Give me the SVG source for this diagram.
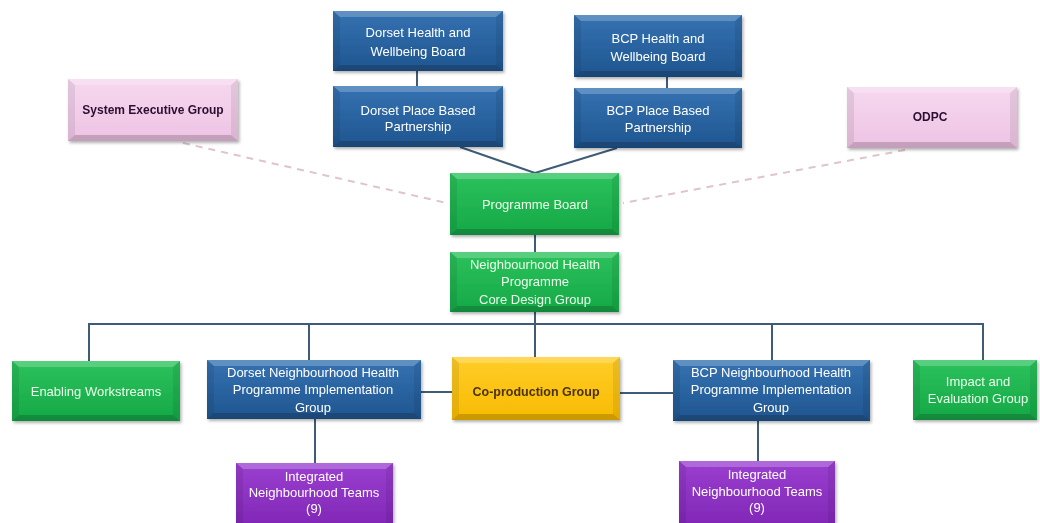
<svg xmlns="http://www.w3.org/2000/svg" width="1040" height="523" viewBox="0 0 1040 523">
<style>
.t{font-family:"Liberation Sans",Arial,sans-serif;font-size:13px;text-anchor:middle;fill:#ffffff}
.tg{fill:#eaffea}
.tp{fill:#2b1030;font-weight:bold;font-size:12px}
.ty{fill:#4a3300;font-weight:bold;font-size:12.5px}
.blue{fill:url(#gBlue)}
.green{fill:url(#gGreen)}
.yellow{fill:url(#gYellow)}
.purple{fill:url(#gPurple)}
.pink{fill:url(#gPink)}
.bt{fill:#ffffff;opacity:0.22}
.bb{fill:#000000;opacity:0.18}
.bs{fill:#000000;opacity:0.08}
.ln{stroke:#3e5c78;stroke-width:2;fill:none}
.dash{stroke:#dfc4ca;stroke-width:2;stroke-dasharray:7 6;fill:none}
.box{filter:url(#sh)}
</style>
<defs>
<filter id="sh" x="-10%" y="-10%" width="125%" height="130%">
<feDropShadow dx="1.5" dy="2" stdDeviation="1.5" flood-color="#000" flood-opacity="0.3"/>
</filter>
<linearGradient id="gBlue" x1="0" y1="0" x2="0" y2="1"><stop offset="0" stop-color="#3572b2"/><stop offset="1" stop-color="#1f558f"/></linearGradient>
<linearGradient id="gGreen" x1="0" y1="0" x2="0" y2="1"><stop offset="0" stop-color="#2cc25c"/><stop offset="1" stop-color="#15a847"/></linearGradient>
<linearGradient id="gYellow" x1="0" y1="0" x2="0" y2="1"><stop offset="0" stop-color="#ffcd2a"/><stop offset="1" stop-color="#f8bb00"/></linearGradient>
<linearGradient id="gPurple" x1="0" y1="0" x2="0" y2="1"><stop offset="0" stop-color="#9a3fd0"/><stop offset="1" stop-color="#8228b8"/></linearGradient>
<linearGradient id="gPink" x1="0" y1="0" x2="0" y2="1"><stop offset="0" stop-color="#f6d8ef"/><stop offset="1" stop-color="#eec3e4"/></linearGradient>
</defs>
<rect width="1040" height="523" fill="#ffffff"/>

<g id="connectors">
<line class="dash" x1="183" y1="143" x2="447" y2="203"/>
<line class="dash" x1="905" y1="150" x2="623" y2="203"/>
<line class="ln" x1="417" y1="71" x2="417" y2="86"/>
<line class="ln" x1="667" y1="77" x2="667" y2="88"/>
<line class="ln" x1="460" y1="147" x2="535" y2="173"/>
<line class="ln" x1="617" y1="148" x2="535" y2="173"/>
<line class="ln" x1="535" y1="235" x2="535" y2="252"/>
<line class="ln" x1="535" y1="312" x2="535" y2="357"/>
<polyline class="ln" points="89,361 89,324 983,324 983,360"/>
<line class="ln" x1="309" y1="324" x2="309" y2="360"/>
<line class="ln" x1="772" y1="324" x2="772" y2="360"/>
<line class="ln" x1="421" y1="392" x2="452" y2="392"/>
<line class="ln" x1="620" y1="393" x2="673" y2="393"/>
<line class="ln" x1="315" y1="419" x2="315" y2="463"/>
<line class="ln" x1="758" y1="421" x2="758" y2="461"/>
</g>

<g id="dorset-hwb" class="box">
<rect class="blue" x="333" y="11" width="170" height="60"/>
<polygon class="bt" points="333,11 503,11 496,17 340,17"/>
<polygon class="bb" points="333,71 503,71 496,65 340,65"/>
<polygon class="bs" points="333,11 340,17 340,65 333,71"/>
<polygon class="bs" points="503,11 496,17 496,65 503,71"/>
<text class="t" x="418" y="37">Dorset Health and</text>
<text class="t" x="418" y="56">Wellbeing Board</text>
</g>

<g id="dorset-pbp" class="box">
<rect class="blue" x="333" y="86" width="170" height="61"/>
<polygon class="bt" points="333,86 503,86 496,92 340,92"/>
<polygon class="bb" points="333,147 503,147 496,141 340,141"/>
<polygon class="bs" points="333,86 340,92 340,141 333,147"/>
<polygon class="bs" points="503,86 496,92 496,141 503,147"/>
<text class="t" x="418" y="115">Dorset Place Based</text>
<text class="t" x="418" y="131">Partnership</text>
</g>

<g id="bcp-hwb" class="box">
<rect class="blue" x="574" y="15" width="168" height="62"/>
<polygon class="bt" points="574,15 742,15 735,21 581,21"/>
<polygon class="bb" points="574,77 742,77 735,71 581,71"/>
<polygon class="bs" points="574,15 581,21 581,71 574,77"/>
<polygon class="bs" points="742,15 735,21 735,71 742,77"/>
<text class="t" x="658" y="43">BCP Health and</text>
<text class="t" x="658" y="61">Wellbeing Board</text>
</g>

<g id="bcp-pbp" class="box">
<rect class="blue" x="574" y="88" width="168" height="60"/>
<polygon class="bt" points="574,88 742,88 735,94 581,94"/>
<polygon class="bb" points="574,148 742,148 735,142 581,142"/>
<polygon class="bs" points="574,88 581,94 581,142 574,148"/>
<polygon class="bs" points="742,88 735,94 735,142 742,148"/>
<text class="t" x="658" y="115">BCP Place Based</text>
<text class="t" x="658" y="132">Partnership</text>
</g>

<g id="system-executive-group" class="box">
<rect class="pink" x="68" y="79" width="170" height="62"/>
<polygon class="bt" points="68,79 238,79 231,85 75,85"/>
<polygon class="bb" points="68,141 238,141 231,135 75,135"/>
<polygon class="bs" points="68,79 75,85 75,135 68,141"/>
<polygon class="bs" points="238,79 231,85 231,135 238,141"/>
<text class="t tp" x="153" y="114">System Executive Group</text>
</g>

<g id="odpc" class="box">
<rect class="pink" x="847" y="87" width="170" height="61"/>
<polygon class="bt" points="847,87 1017,87 1010,93 854,93"/>
<polygon class="bb" points="847,148 1017,148 1010,142 854,142"/>
<polygon class="bs" points="847,87 854,93 854,142 847,148"/>
<polygon class="bs" points="1017,87 1010,93 1010,142 1017,148"/>
<text class="t tp" x="930" y="121">ODPC</text>
</g>

<g id="programme-board" class="box">
<rect class="green" x="450" y="173" width="169" height="62"/>
<polygon class="bt" points="450,173 619,173 612,179 457,179"/>
<polygon class="bb" points="450,235 619,235 612,229 457,229"/>
<polygon class="bs" points="450,173 457,179 457,229 450,235"/>
<polygon class="bs" points="619,173 612,179 612,229 619,235"/>
<text class="t tg" x="535" y="209">Programme Board</text>
</g>

<g id="core-design-group" class="box">
<rect class="green" x="450" y="252" width="169" height="60"/>
<polygon class="bt" points="450,252 619,252 612,258 457,258"/>
<polygon class="bb" points="450,312 619,312 612,306 457,306"/>
<polygon class="bs" points="450,252 457,258 457,306 450,312"/>
<polygon class="bs" points="619,252 612,258 612,306 619,312"/>
<text class="t tg" x="535" y="269">Neighbourhood Health</text>
<text class="t tg" x="535" y="286">Programme</text>
<text class="t tg" x="535" y="304">Core Design Group</text>
</g>

<g id="enabling-workstreams" class="box">
<rect class="green" x="12" y="361" width="168" height="60"/>
<polygon class="bt" points="12,361 180,361 173,367 19,367"/>
<polygon class="bb" points="12,421 180,421 173,415 19,415"/>
<polygon class="bs" points="12,361 19,367 19,415 12,421"/>
<polygon class="bs" points="180,361 173,367 173,415 180,421"/>
<text class="t tg" x="96" y="396">Enabling Workstreams</text>
</g>

<g id="dorset-implementation-group" class="box">
<rect class="blue" x="207" y="360" width="214" height="59"/>
<polygon class="bt" points="207,360 421,360 414,366 214,366"/>
<polygon class="bb" points="207,419 421,419 414,413 214,413"/>
<polygon class="bs" points="207,360 214,366 214,413 207,419"/>
<polygon class="bs" points="421,360 414,366 414,413 421,419"/>
<text class="t" x="313" y="377">Dorset Neighbourhood Health</text>
<text class="t" x="313" y="394">Programme Implementation</text>
<text class="t" x="313" y="412">Group</text>
</g>

<g id="co-production-group" class="box">
<rect class="yellow" x="452" y="357" width="168" height="63"/>
<polygon class="bt" points="452,357 620,357 613,363 459,363"/>
<polygon class="bb" points="452,420 620,420 613,414 459,414"/>
<polygon class="bs" points="452,357 459,363 459,414 452,420"/>
<polygon class="bs" points="620,357 613,363 613,414 620,420"/>
<text class="t ty" x="536" y="396">Co-production Group</text>
</g>

<g id="bcp-implementation-group" class="box">
<rect class="blue" x="673" y="360" width="197" height="61"/>
<polygon class="bt" points="673,360 870,360 863,366 680,366"/>
<polygon class="bb" points="673,421 870,421 863,415 680,415"/>
<polygon class="bs" points="673,360 680,366 680,415 673,421"/>
<polygon class="bs" points="870,360 863,366 863,415 870,421"/>
<text class="t" x="771" y="377">BCP Neighbourhood Health</text>
<text class="t" x="771" y="394">Programme Implementation</text>
<text class="t" x="771" y="412">Group</text>
</g>

<g id="impact-evaluation-group" class="box">
<rect class="green" x="913" y="360" width="124" height="60"/>
<polygon class="bt" points="913,360 1037,360 1030,366 920,366"/>
<polygon class="bb" points="913,420 1037,420 1030,414 920,414"/>
<polygon class="bs" points="913,360 920,366 920,414 913,420"/>
<polygon class="bs" points="1037,360 1030,366 1030,414 1037,420"/>
<text class="t tg" x="978" y="386">Impact and</text>
<text class="t tg" x="978" y="403">Evaluation Group</text>
</g>

<g id="dorset-int" class="box">
<rect class="purple" x="236" y="463" width="157" height="60"/>
<polygon class="bt" points="236,463 393,463 386,469 243,469"/>
<polygon class="bs" points="236,463 243,469 243,523 236,523"/>
<polygon class="bs" points="393,463 386,469 386,523 393,523"/>
<text class="t" x="314" y="481">Integrated</text>
<text class="t" x="314" y="497">Neighbourhood Teams</text>
<text class="t" x="314" y="513">(9)</text>
</g>

<g id="bcp-int" class="box">
<rect class="purple" x="679" y="461" width="156" height="62"/>
<polygon class="bt" points="679,461 835,461 828,467 686,467"/>
<polygon class="bs" points="679,461 686,467 686,523 679,523"/>
<polygon class="bs" points="835,461 828,467 828,523 835,523"/>
<text class="t" x="757" y="479">Integrated</text>
<text class="t" x="757" y="496">Neighbourhood Teams</text>
<text class="t" x="757" y="512">(9)</text>
</g>
</svg>
